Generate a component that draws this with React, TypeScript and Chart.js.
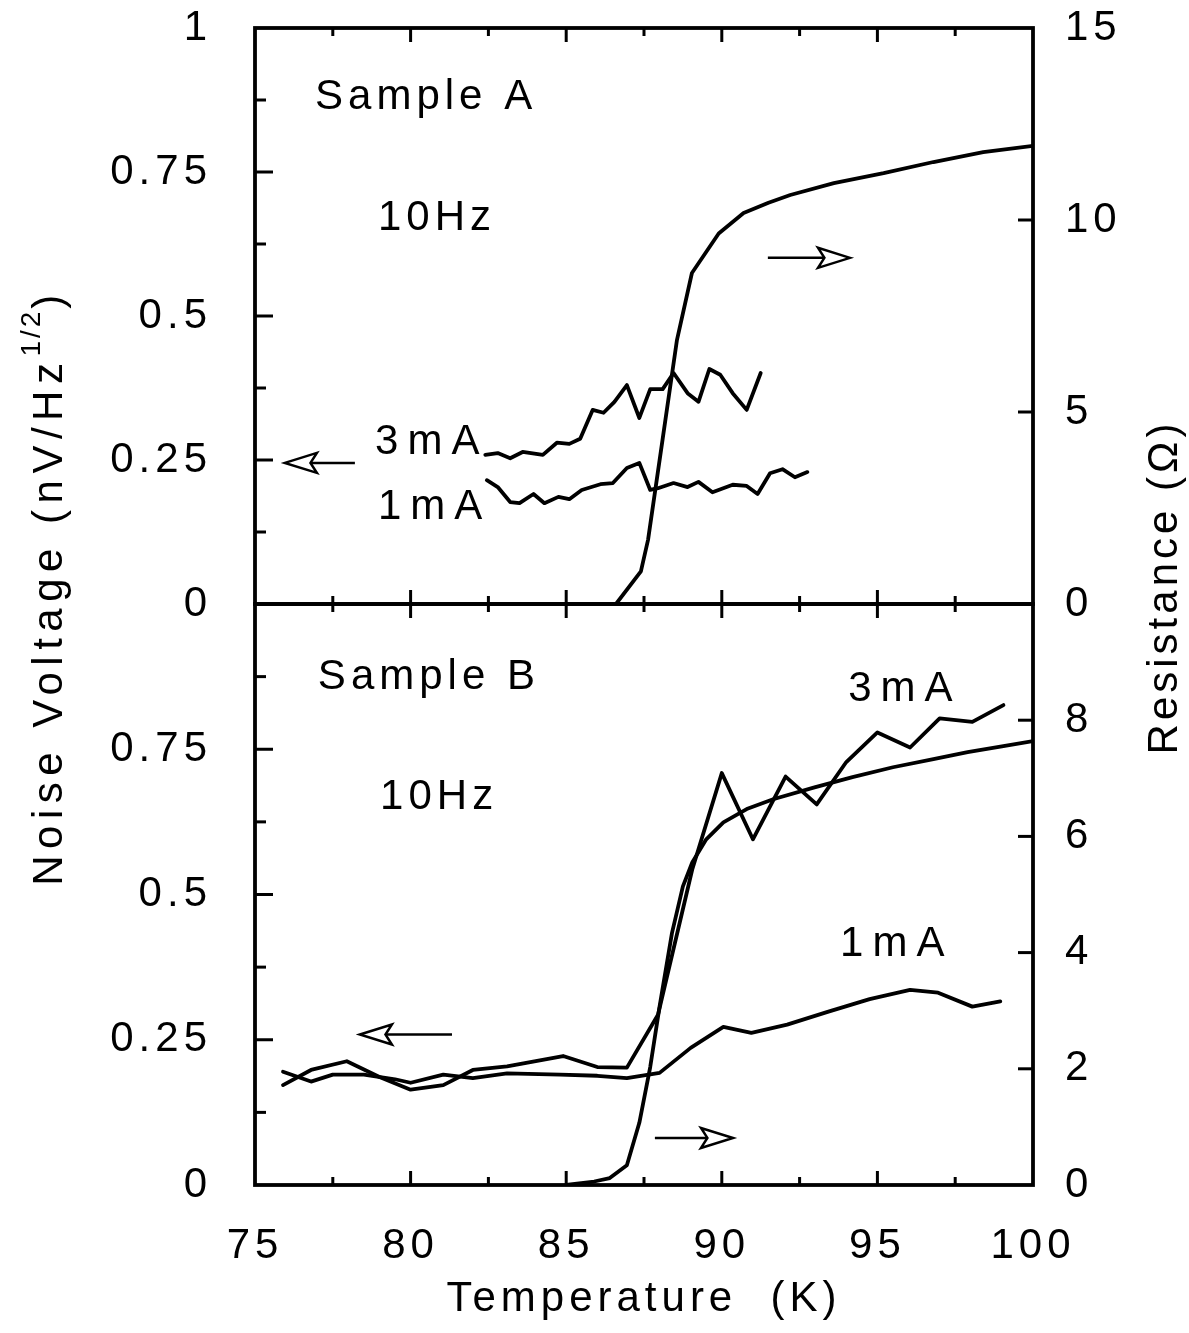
import React, { useEffect, useRef } from 'react';
import { Chart, registerables } from 'chart.js';

Chart.register(...registerables);

const FONT = '"Liberation Sans", Arial, Helvetica, sans-serif';

// ---------- Sample A (top panel) ----------
const resATemp = [86.6, 87.4, 87.63, 88.1, 88.56, 89.04, 89.9, 90.7, 91.5, 92.2, 93.6, 95.2, 96.8, 98.4, 100];
const resAVal = [0, 0.85, 1.67, 4.3, 6.88, 8.62, 9.65, 10.18, 10.45, 10.65, 10.96, 11.22, 11.51, 11.77, 11.93];

const t3A = [82.4, 82.8, 83.2, 83.6, 84.25, 84.7, 85.1, 85.45, 85.85, 86.2, 86.55, 86.95, 87.35, 87.7, 88.1, 88.45, 88.9, 89.25, 89.6, 89.95, 90.35, 90.8, 91.25];
const v3A = [0.259, 0.262, 0.253, 0.264, 0.259, 0.28, 0.278, 0.287, 0.337, 0.332, 0.351, 0.38, 0.323, 0.373, 0.373, 0.401, 0.366, 0.351, 0.408, 0.398, 0.366, 0.337, 0.401];

const t1A = [82.45, 82.8, 83.2, 83.5, 83.95, 84.3, 84.75, 85.1, 85.5, 86.1, 86.5, 86.95, 87.35, 87.7, 87.95, 88.45, 88.9, 89.25, 89.7, 90.35, 90.8, 91.15, 91.55, 91.95, 92.35, 92.75];
const v1A = [0.215, 0.203, 0.177, 0.175, 0.191, 0.175, 0.186, 0.182, 0.198, 0.208, 0.21, 0.236, 0.245, 0.198, 0.201, 0.21, 0.203, 0.212, 0.194, 0.207, 0.205, 0.191, 0.227, 0.234, 0.22, 0.229];

// ---------- Sample B (bottom panel) ----------
const resBTemp = [85.0, 85.9, 86.4, 86.95, 87.35, 87.7, 88.0, 88.4, 88.75, 89.05, 89.5, 90.05, 90.8, 91.65, 92.95, 94.2, 95.5, 96.8, 97.9, 99.0, 100];
const resBVal = [0, 0.06, 0.12, 0.34, 1.07, 2.03, 3.07, 4.34, 5.14, 5.55, 5.95, 6.24, 6.47, 6.64, 6.84, 7.02, 7.19, 7.33, 7.45, 7.55, 7.64];

const t3B = [75.9, 76.8, 77.95, 79.0, 80.0, 81.05, 82.0, 83.1, 84.9, 86.0, 86.95, 87.95, 89.05, 90.0, 91.0, 92.05, 93.05, 94.0, 95.0, 96.05, 97.0, 98.05, 99.05];
const v3B = [0.172, 0.198, 0.213, 0.186, 0.164, 0.172, 0.198, 0.204, 0.222, 0.203, 0.202, 0.293, 0.543, 0.709, 0.595, 0.703, 0.655, 0.728, 0.779, 0.753, 0.803, 0.797, 0.826];

const t1B = [75.9, 76.8, 77.5, 78.5, 79.5, 80.0, 81.05, 82.0, 83.1, 84.8, 86.0, 86.95, 88.0, 89.0, 90.05, 90.95, 92.1, 93.4, 94.75, 96.05, 96.95, 98.05, 98.95];
const v1B = [0.195, 0.178, 0.19, 0.19, 0.182, 0.176, 0.19, 0.184, 0.192, 0.19, 0.188, 0.184, 0.193, 0.236, 0.272, 0.262, 0.276, 0.298, 0.32, 0.336, 0.331, 0.307, 0.316];

// ---------- Axes ----------
const xMajorTicks = [80, 85, 90, 95];
const xMinorTicks = [77.5, 82.5, 87.5, 92.5, 97.5];
const noiseMajorTicks = [0.25, 0.5, 0.75];
const noiseMinorTicks = [0.125, 0.375, 0.625, 0.875];
const resATicks = [5, 10];
const resBTicks = [2, 4, 6, 8];

// ---------- Annotations ----------
const annTopText = ['Sample A', '10Hz', '3mA', '1mA'];
const annTopT = [76.93, 78.95, 78.86, 78.95];
const annTopV = [0.88, 0.67, 0.281, 0.168];
const arrowTopFrom = [78.21, 91.48];
const arrowTopTo = [75.96, 94.12];
const arrowTopV = [0.245, 0.601];

const annBotText = ['Sample B', '10Hz', '3mA', '1mA'];
const annBotT = [77.02, 79.02, 94.06, 93.8];
const annBotV = [0.874, 0.667, 0.853, 0.414];
const arrowBotFrom = [81.33, 87.85];
const arrowBotTo = [78.37, 90.36];
const arrowBotV = [0.259, 0.081];

const toXY = (xs: number[], ys: number[]) => xs.map((x, i) => ({ x, y: ys[i] }));

const lineDs = (data: { x: number; y: number }[], axis: string) => ({
  data,
  yAxisID: axis,
  borderColor: '#000',
  borderWidth: 3.8,
  pointRadius: 0,
  fill: false,
  tension: 0,
  borderJoinStyle: 'round' as const,
  borderCapStyle: 'round' as const,
});

function framePlugin(rightTicks: number[]) {
  return {
    id: 'frameTicks',
    beforeDraw(chart: any) {
      (chart.ctx as any).letterSpacing = '5px';
    },
    afterDatasetsDraw(chart: any) {
      const { ctx, chartArea: a, scales } = chart;
      ctx.save();
      ctx.strokeStyle = '#000';
      ctx.lineWidth = 3;
      const v = (px: number, y0: number, len: number) => {
        ctx.beginPath();
        ctx.moveTo(px, y0);
        ctx.lineTo(px, y0 + len);
        ctx.stroke();
      };
      const h = (py: number, x0: number, len: number) => {
        ctx.beginPath();
        ctx.moveTo(x0, py);
        ctx.lineTo(x0 + len, py);
        ctx.stroke();
      };
      xMajorTicks.forEach((t) => {
        const px = scales.x.getPixelForValue(t);
        v(px, a.top, 14);
        v(px, a.bottom, -14);
      });
      xMinorTicks.forEach((t) => {
        const px = scales.x.getPixelForValue(t);
        v(px, a.top, 8);
        v(px, a.bottom, -8);
      });
      noiseMajorTicks.forEach((t) => h(scales.yL.getPixelForValue(t), a.left, 18));
      noiseMinorTicks.forEach((t) => h(scales.yL.getPixelForValue(t), a.left, 11));
      rightTicks.forEach((t) => h(scales.yR.getPixelForValue(t), a.right, -15));
      ctx.lineWidth = 3.8;
      ctx.strokeRect(a.left, a.top, a.width, a.height);
      ctx.restore();
    },
  };
}

function annotationPlugin(texts: string[], ts: number[], vs: number[], aFrom: number[], aTo: number[], aV: number[]) {
  return {
    id: 'annotations',
    afterDatasetsDraw(chart: any) {
      const { ctx, scales } = chart;
      const sx = scales.x;
      const sy = scales.yL;
      ctx.save();
      ctx.fillStyle = '#000';
      ctx.strokeStyle = '#000';
      ctx.font = `42px ${FONT}`;
      ctx.textAlign = 'left';
      ctx.textBaseline = 'middle';
      texts.forEach((txt, i) => {
        (ctx as any).letterSpacing = txt.includes('mA') ? '9px' : '5px';
        ctx.fillText(txt, sx.getPixelForValue(ts[i]), sy.getPixelForValue(vs[i]));
      });
      aFrom.forEach((f, i) => {
        const x1 = sx.getPixelForValue(f);
        const x2 = sx.getPixelForValue(aTo[i]);
        const y = sy.getPixelForValue(aV[i]);
        const d = Math.sign(x2 - x1);
        const L = 32;
        const H = 10;
        ctx.lineWidth = 2.5;
        ctx.beginPath();
        ctx.moveTo(x1, y);
        ctx.lineTo(x2 - d * L * 0.8, y);
        ctx.stroke();
        ctx.beginPath();
        ctx.moveTo(x2, y);
        ctx.lineTo(x2 - d * L, y - H);
        ctx.lineTo(x2 - d * L * 0.8, y);
        ctx.lineTo(x2 - d * L, y + H);
        ctx.closePath();
        ctx.fillStyle = '#fff';
        ctx.fill();
        ctx.stroke();
      });
      ctx.restore();
    },
  };
}

const titlePlugin = {
  id: 'yTitles',
  afterDraw(chart: any) {
    const ctx = chart.ctx;
    ctx.save();
    ctx.fillStyle = '#000';
    ctx.textBaseline = 'middle';
    ctx.textAlign = 'left';
    const midY = 587;
    // left title with superscript
    ctx.save();
    ctx.translate(50, midY);
    ctx.rotate(-Math.PI / 2);
    const main = 'Noise Voltage (nV/Hz';
    const sup = '1/2';
    const close = ')';
    ctx.font = `42px ${FONT}`;
    (ctx as any).letterSpacing = '6.5px';
    const wMain = ctx.measureText(main).width;
    const wClose = ctx.measureText(close).width;
    ctx.font = `28px ${FONT}`;
    (ctx as any).letterSpacing = '3px';
    const wSup = ctx.measureText(sup).width;
    const total = wMain + wSup + wClose;
    let x = -total / 2;
    ctx.font = `42px ${FONT}`;
    (ctx as any).letterSpacing = '6.5px';
    ctx.fillText(main, x, 0);
    x += wMain;
    ctx.font = `28px ${FONT}`;
    (ctx as any).letterSpacing = '3px';
    ctx.fillText(sup, x, -18);
    x += wSup;
    ctx.font = `42px ${FONT}`;
    (ctx as any).letterSpacing = '6.5px';
    ctx.fillText(close, x, 0);
    ctx.restore();
    // right title
    ctx.save();
    ctx.translate(1165, midY);
    ctx.rotate(-Math.PI / 2);
    ctx.font = `42px ${FONT}`;
    (ctx as any).letterSpacing = '4px';
    ctx.textAlign = 'center';
    ctx.fillText('Resistance (Ω)', 0, 0);
    ctx.restore();
    ctx.restore();
  },
};

const tickFont = { family: FONT, size: 42 };

const fixY = (w: number) => (s: any) => {
  s.width = w;
  s.paddingTop = 0;
  s.paddingBottom = 0;
};

function TopChart() {
  const ref = useRef<HTMLCanvasElement>(null);
  useEffect(() => {
    const chart = new Chart(ref.current!, {
      type: 'line',
      data: {
        datasets: [
          lineDs(toXY(resATemp, resAVal), 'yR'),
          lineDs(toXY(t3A, v3A), 'yL'),
          lineDs(toXY(t1A, v1A), 'yL'),
        ],
      },
      options: {
        responsive: false,
        animation: false,
        layout: { padding: { top: 28, bottom: 36, left: 0, right: 0 } },
        plugins: { legend: { display: false }, tooltip: { enabled: false } },
        scales: {
          x: { type: 'linear', min: 75, max: 100, display: false },
          yL: {
            type: 'linear',
            position: 'left',
            min: 0,
            max: 1,
            ticks: { stepSize: 0.25, font: tickFont, color: '#000', padding: 43, callback: (v: any) => String(v) },
            grid: { display: false, drawTicks: false },
            border: { display: false },
            afterFit: fixY(255),
          },
          yR: {
            type: 'linear',
            position: 'right',
            min: 0,
            max: 15,
            ticks: { stepSize: 5, font: tickFont, color: '#000', padding: 32, callback: (v: any) => String(v) },
            grid: { display: false, drawTicks: false },
            border: { display: false },
            afterFit: fixY(156),
          },
        },
      } as any,
      plugins: [framePlugin(resATicks), annotationPlugin(annTopText, annTopT, annTopV, arrowTopFrom, arrowTopTo, arrowTopV)],
    });
    return () => chart.destroy();
  }, []);
  return <canvas ref={ref} width={1189} height={640} style={{ position: 'absolute', left: 0, top: 0 }} />;
}

function BottomChart() {
  const ref = useRef<HTMLCanvasElement>(null);
  useEffect(() => {
    const chart = new Chart(ref.current!, {
      type: 'line',
      data: {
        datasets: [
          lineDs(toXY(resBTemp, resBVal), 'yR'),
          lineDs(toXY(t3B, v3B), 'yL'),
          lineDs(toXY(t1B, v1B), 'yL'),
        ],
      },
      options: {
        responsive: false,
        animation: false,
        layout: { padding: { top: 604, bottom: 0, left: 0, right: 0 } },
        plugins: { legend: { display: false }, tooltip: { enabled: false } },
        scales: {
          x: {
            type: 'linear',
            min: 75,
            max: 100,
            ticks: { stepSize: 5, font: tickFont, color: '#000', padding: 36, callback: (v: any) => String(v) },
            grid: { display: false, drawTicks: false },
            border: { display: false },
            title: {
              display: true,
              text: 'Temperature  (K)',
              font: tickFont,
              color: '#000',
              padding: { top: 0, bottom: 8 },
            },
            afterFit: (s: any) => { s.height = 148; },
          },
          yL: {
            type: 'linear',
            position: 'left',
            min: 0,
            max: 1,
            ticks: { stepSize: 0.25, font: tickFont, color: '#000', padding: 43, callback: (v: any) => (v === 1 ? '' : String(v)) },
            grid: { display: false, drawTicks: false },
            border: { display: false },
            afterFit: fixY(255),
          },
          yR: {
            type: 'linear',
            position: 'right',
            min: 0,
            max: 10,
            ticks: { stepSize: 2, font: tickFont, color: '#000', padding: 32, callback: (v: any) => (v === 10 ? '' : String(v)) },
            grid: { display: false, drawTicks: false },
            border: { display: false },
            afterFit: fixY(156),
          },
        },
      } as any,
      plugins: [
        framePlugin(resBTicks),
        annotationPlugin(annBotText, annBotT, annBotV, arrowBotFrom, arrowBotTo, arrowBotV),
        titlePlugin,
      ],
    });
    return () => chart.destroy();
  }, []);
  return <canvas ref={ref} width={1189} height={1333} style={{ position: 'absolute', left: 0, top: 0 }} />;
}

export default function App() {
  return (
    <div style={{ position: 'absolute', left: 0, top: 0, width: 1189, height: 1333, background: '#fff' }}>
      <BottomChart />
      <TopChart />
    </div>
  );
}
